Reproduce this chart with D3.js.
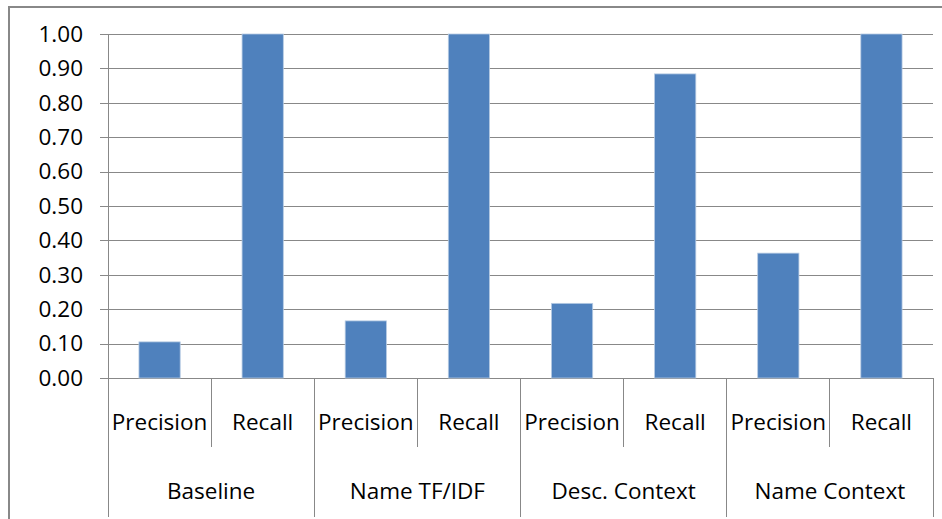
<!DOCTYPE html>
<html>
<head>
<meta charset="utf-8">
<script src="https://cdn.jsdelivr.net/npm/d3@7"></script>
<style>
  html, body { margin: 0; padding: 0; background: #fff; }
  svg { display: block; }
  text { font-family: "Open Sans", "Liberation Sans", sans-serif; fill: #000; }
</style>
</head>
<body>
<svg id="chart" width="942" height="519"></svg>
<script>
// ---- data ----
const groups = ["Baseline", "Name TF/IDF", "Desc. Context", "Name Context"];
const measures = ["Precision", "Recall"];
const precisionValues = [0.105, 0.166, 0.217, 0.363];
const recallValues = [1.00, 1.00, 0.884, 1.00];
const yTicks = [0, 0.1, 0.2, 0.3, 0.4, 0.5, 0.6, 0.7, 0.8, 0.9, 1.0];

const rows = [];
groups.forEach((g, i) => {
  rows.push({ group: g, measure: "Precision", key: g + "|Precision", value: precisionValues[i] });
  rows.push({ group: g, measure: "Recall", key: g + "|Recall", value: recallValues[i] });
});

const svg = d3.select("#chart");
const W = 942, H = 519;
const pLeft = 108, pRight = 933, pTop = 34, pBottom = 378;
const FS = 22.5;

// frame (left and top edges visible)
svg.append("line").attr("x1", 9).attr("x2", 9).attr("y1", 7).attr("y2", H)
  .attr("stroke", "#888").attr("stroke-width", 2);
svg.append("line").attr("x1", 8).attr("x2", W).attr("y1", 7).attr("y2", 7)
  .attr("stroke", "#888").attr("stroke-width", 2);

const y = d3.scaleLinear().domain([0, 1]).range([pBottom, pTop]);
const x = d3.scaleBand().domain(rows.map(d => d.key)).range([pLeft, pRight])
  .paddingInner(0.6).paddingOuter(0.3);
const xg = d3.scaleBand().domain(groups).range([pLeft, pRight]).padding(0);

// gridlines + y axis
const yAxis = d3.axisLeft(y).tickValues(yTicks).tickFormat(d3.format(".2f"))
  .tickSize(-(pRight - pLeft)).tickPadding(25);
const ga = svg.append("g").attr("transform", `translate(${pLeft},0)`).call(yAxis);
ga.select(".domain").remove();
ga.selectAll(".tick line").attr("stroke", "#888").attr("stroke-width", 1)
  .attr("x1", -8).attr("shape-rendering", "crispEdges");
ga.selectAll(".tick text").attr("font-size", FS).attr("fill", "#000")
  .attr("font-family", '"Open Sans", sans-serif');

// bars
svg.append("g").selectAll("rect").data(rows).join("rect")
  .attr("x", d => x(d.key))
  .attr("width", x.bandwidth())
  .attr("y", d => y(d.value))
  .attr("height", d => y(0) - y(d.value))
  .attr("fill", "#4F81BD")
  .attr("stroke", "#b7cbe3").attr("stroke-width", 0.8);

// vertical axis line
svg.append("line").attr("x1", pLeft).attr("x2", pLeft).attr("y1", pTop).attr("y2", pBottom)
  .attr("stroke", "#888").attr("shape-rendering", "crispEdges");

// category axis: inner ticks (between measures) and group separators
const cat = svg.append("g");
groups.forEach(g => {
  const mid = xg(g) + xg.bandwidth() / 2;
  cat.append("line").attr("x1", mid).attr("x2", mid).attr("y1", pBottom).attr("y2", 447)
    .attr("stroke", "#888").attr("shape-rendering", "crispEdges");
});
groups.concat(["__end"]).forEach((g, i) => {
  const bx = i < groups.length ? xg(g) : pRight;
  cat.append("line").attr("x1", bx).attr("x2", bx).attr("y1", pBottom).attr("y2", 517)
    .attr("stroke", "#888").attr("shape-rendering", "crispEdges");
});

// measure labels
cat.selectAll("text.m").data(rows).join("text").attr("class", "m")
  .attr("x", d => x(d.key) + x.bandwidth() / 2)
  .attr("y", 421)
  .attr("text-anchor", "middle").attr("dominant-baseline", "central")
  .attr("font-size", FS)
  .text(d => d.measure);

// group labels
cat.selectAll("text.g").data(groups).join("text").attr("class", "g")
  .attr("x", d => xg(d) + xg.bandwidth() / 2)
  .attr("y", 490)
  .attr("text-anchor", "middle").attr("dominant-baseline", "central")
  .attr("font-size", FS)
  .text(d => d);
</script>
</body>
</html>
